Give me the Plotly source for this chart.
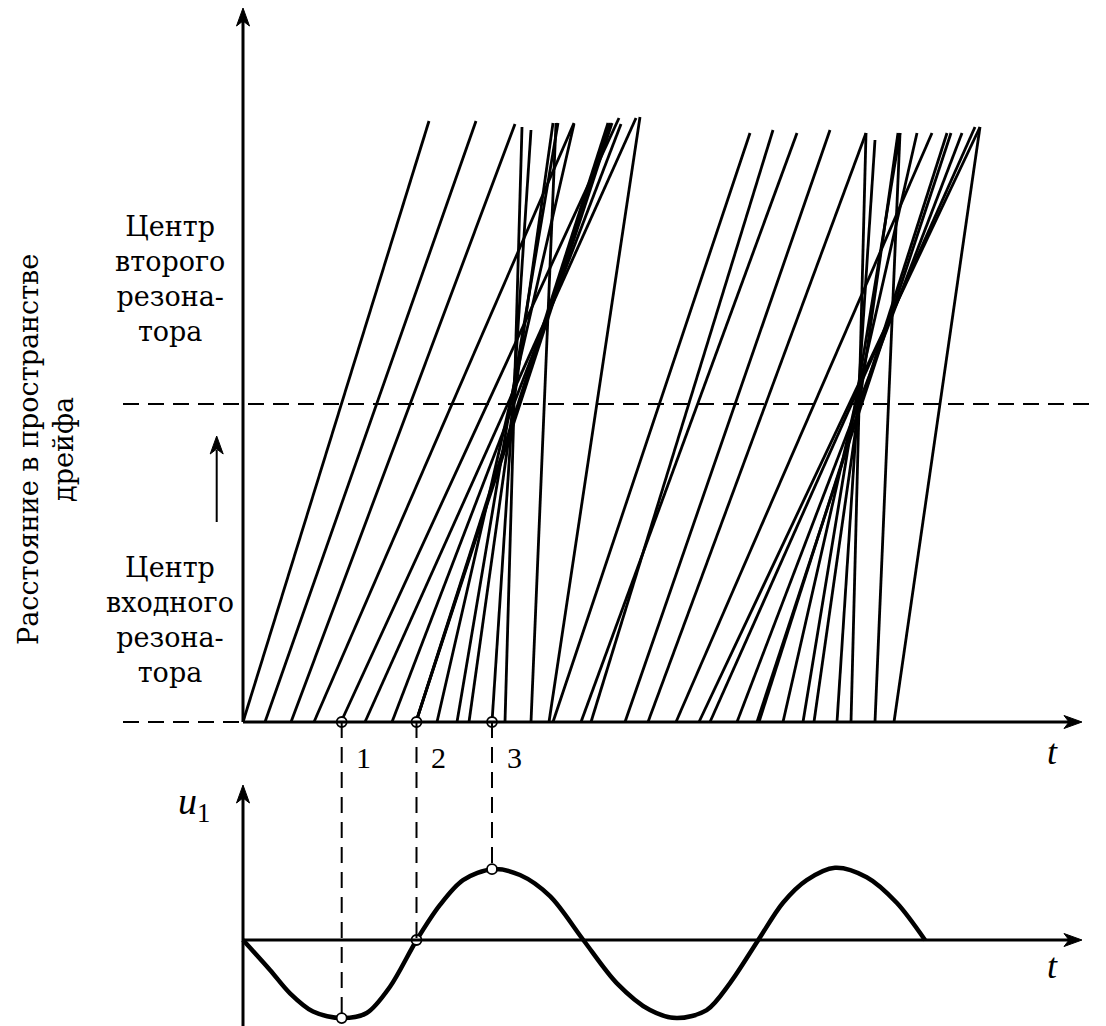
import plotly.graph_objects as go

# ---------------- data ----------------
# Applegate diagram: electron trajectories (start time on the input-resonator
# line, arrival time and height at the top of the drawing)
traj_t0 = [0, 22, 48, 71, 98, 122, 149, 173, 173, 173, 194, 214, 226, 249, 262, 288, 306,
           310, 338, 348, 382, 405, 433, 456, 467, 494, 514, 516, 540, 560, 571, 594, 608, 632, 651]
traj_t1 = [186, 233, 272, 331, 376, 393, 378, 369, 367, 365, 331, 315, 310, 288, 279, 313, 397,
           507, 554, 530, 587, 623, 689, 737, 732, 719, 708, 704, 674, 657, 655, 632, 623, 657, 737]
traj_z1 = [601, 601, 598, 599, 604, 604, 598, 599, 599, 599, 598, 599, 599, 592, 595, 599, 605,
           589, 589, 592, 592, 589, 589, 595, 595, 589, 589, 589, 589, 589, 589, 582, 589, 589, 595]

# height of the second resonator centre
z_second = 318

# modulating voltage u1(t) in the input resonator
curve_t = [0, 27, 47, 70, 98.7, 123.7, 147, 173.7, 197, 220, 249.7, 277, 307, 340.3,
           373.7, 407, 433.7, 463.7, 487, 515.3, 540, 563.7, 592, 623.7, 653.7, 682]
curve_u = [0, -0.41, -0.73, -0.98, -1.07, -1.0, -0.64, 0, 0.48, 0.82, 0.97, 0.89, 0.60, 0,
           -0.59, -0.96, -1.07, -0.96, -0.59, 0, 0.51, 0.82, 0.99, 0.86, 0.51, 0]

# marked instants 1, 2, 3
mark_labels = ["1", "2", "3"]
mark_t = [98.7, 173.5, 249.0]
mark_u = [-1.07, 0.0, 0.97]

# ---------------- layout constants ----------------
W, H = 1106, 1026
OFF = 8             # page body margin of the browser
WF, HF = W - OFF, H - OFF
X0 = 243            # pixel of t = 0
Y_TOP_AXIS = 722    # pixel of z = 0
Y_BOT_AXIS = 940    # pixel of u = 0
U_SCALE = 73        # pixels per unit of u
FONT = "Liberation Serif"
FONT_CYR = "DejaVu Serif"
BLACK = "#000000"

x_range = [OFF - X0, OFF + WF - X0]
y_range = [Y_TOP_AXIS - (OFF + HF), Y_TOP_AXIS - OFF]
y2_range = [(Y_BOT_AXIS - (OFF + HF)) / U_SCALE, (Y_BOT_AXIS - OFF) / U_SCALE]


def u_to_z(u):
    """convert a u-value (y2 axis) to the z-axis (y axis) coordinate"""
    ypix = Y_BOT_AXIS - u * U_SCALE
    return Y_TOP_AXIS - ypix


fig = go.Figure()

# trajectories
xs, ys = [], []
for t0, t1, z1 in zip(traj_t0, traj_t1, traj_z1):
    xs += [t0, t1, None]
    ys += [0, z1, None]
fig.add_trace(go.Scatter(x=xs, y=ys, mode="lines",
                         line=dict(color=BLACK, width=2.8), hoverinfo="skip"))

# voltage curve
fig.add_trace(go.Scatter(x=curve_t, y=curve_u, yaxis="y2", mode="lines",
                         line=dict(color=BLACK, width=4.5, shape="spline", smoothing=0.9),
                         hoverinfo="skip"))

shapes = []
dash = "16px,9px"
# dashed level lines
shapes.append(dict(type="line", xref="x", yref="y", x0=-120, x1=W - X0, y0=z_second, y1=z_second,
                   line=dict(color=BLACK, width=2, dash=dash)))
shapes.append(dict(type="line", xref="x", yref="y", x0=-120, x1=0, y0=0, y1=0,
                   line=dict(color=BLACK, width=2, dash=dash)))
# vertical dashed projections
for t, u in zip(mark_t, mark_u):
    shapes.append(dict(type="line", xref="x", yref="y", x0=t, x1=t, y0=0, y1=u_to_z(u),
                       line=dict(color=BLACK, width=2, dash=dash)))

# axes (top diagram)
x_tip = 1082 - X0
shapes.append(dict(type="line", xref="x", yref="y", x0=0, x1=x_tip - 10, y0=0, y1=0,
                   line=dict(color=BLACK, width=3)))
z_tip = Y_TOP_AXIS - 8
shapes.append(dict(type="line", xref="x", yref="y", x0=0, x1=0, y0=0, y1=z_tip - 10,
                   line=dict(color=BLACK, width=3)))
# axes (bottom diagram) in y coordinates
zb = u_to_z(0)
shapes.append(dict(type="line", xref="x", yref="y", x0=0, x1=x_tip - 10, y0=zb, y1=zb,
                   line=dict(color=BLACK, width=3)))
zb_tip = Y_TOP_AXIS - 785
shapes.append(dict(type="line", xref="x", yref="y", x0=0, x1=0, y0=Y_TOP_AXIS - H - 5, y1=zb_tip - 10,
                   line=dict(color=BLACK, width=3)))


def arrow_right(x, y):
    return dict(type="path", xref="x", yref="y",
                path=f"M {x},{y} L {x-18},{y+6.5} L {x-13},{y} L {x-18},{y-6.5} Z",
                fillcolor=BLACK, line=dict(color=BLACK, width=1))


def arrow_up(x, y):
    return dict(type="path", xref="x", yref="y",
                path=f"M {x},{y} L {x-6.5},{y-18} L {x},{y-13} L {x+6.5},{y-18} Z",
                fillcolor=BLACK, line=dict(color=BLACK, width=1))


shapes += [arrow_right(x_tip, 0), arrow_up(0, z_tip), arrow_right(x_tip, zb), arrow_up(0, zb_tip)]

# small arrow beside the labels
shapes.append(dict(type="line", xref="x", yref="y", x0=216.7 - X0, x1=216.7 - X0,
                   y0=Y_TOP_AXIS - 522, y1=Y_TOP_AXIS - 450,
                   line=dict(color=BLACK, width=2)))
shapes.append(arrow_up(216.7 - X0, Y_TOP_AXIS - 436))

fig.update_layout(shapes=shapes)

# circles at marked instants
fig.add_trace(go.Scatter(x=mark_t, y=[0, 0, 0], mode="markers",
                         marker=dict(size=10, color="white", line=dict(color=BLACK, width=1.8)),
                         hoverinfo="skip"))
fig.add_trace(go.Scatter(x=mark_t, y=mark_u, yaxis="y2", mode="markers",
                         marker=dict(size=10, color="white", line=dict(color=BLACK, width=1.8)),
                         hoverinfo="skip"))

ann = []
for t, lab in zip(mark_t, mark_labels):
    ann.append(dict(x=t + 22, y=Y_TOP_AXIS - 757, xref="x", yref="y", text=lab, showarrow=False,
                    font=dict(family=FONT, size=30, color=BLACK)))
ann.append(dict(x=1052 - X0, y=Y_TOP_AXIS - 752, xref="x", yref="y", text="<i>t</i>",
                showarrow=False, font=dict(family=FONT, size=36, color=BLACK)))
ann.append(dict(x=1052 - X0, y=Y_TOP_AXIS - 966, xref="x", yref="y", text="<i>t</i>",
                showarrow=False, font=dict(family=FONT, size=36, color=BLACK)))
ann.append(dict(x=194 - X0, y=Y_TOP_AXIS - 804, xref="x", yref="y", text="<i>u</i><sub>1</sub>",
                showarrow=False, font=dict(family=FONT, size=38, color=BLACK)))
ann.append(dict(x=170 - X0, y=Y_TOP_AXIS - 279, xref="x", yref="y",
                text="Центр<br>второго<br>резона-<br>тора", showarrow=False, align="center",
                font=dict(family=FONT_CYR, size=27, color=BLACK)))
ann.append(dict(x=170 - X0, y=Y_TOP_AXIS - 620, xref="x", yref="y",
                text="Центр<br>входного<br>резона-<br>тора", showarrow=False, align="center",
                font=dict(family=FONT_CYR, size=27, color=BLACK)))
ann.append(dict(x=46 - X0, y=Y_TOP_AXIS - 450, xref="x", yref="y",
                text="Расстояние в пространстве<br>дрейфа", showarrow=False, align="center",
                textangle=-90, font=dict(family=FONT_CYR, size=27, color=BLACK)))
fig.update_layout(annotations=ann)

fig.update_layout(
    width=WF, height=HF, margin=dict(l=0, r=0, t=0, b=0),
    paper_bgcolor="white", plot_bgcolor="white", showlegend=False,
    xaxis=dict(range=x_range, visible=False, domain=[0, 1], fixedrange=True),
    yaxis=dict(range=y_range, visible=False, domain=[0, 1], fixedrange=True),
    yaxis2=dict(range=y2_range, visible=False, overlaying="y", fixedrange=True),
)

fig.write_html("out.html")
